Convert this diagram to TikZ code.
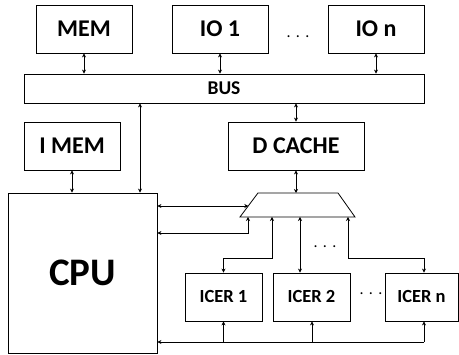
\documentclass[tikz,border=0pt]{standalone}
\usepackage{fontspec}
\setmainfont{Carlito}
\usetikzlibrary{arrows.meta,calc}
\begin{document}
\begin{tikzpicture}[x=1pt,y=-1pt,
  box/.style={draw,line width=0.8pt,inner sep=0pt,font=\bfseries\fontsize{24}{26}\selectfont},
  sbox/.style={box,font=\bfseries\fontsize{18.5}{20}\selectfont},
  dbl/.style={line width=0.8pt,{Stealth[length=4pt,width=4pt]}-{Stealth[length=4pt,width=4pt]}},
  sgl/.style={line width=0.8pt,-{Stealth[length=4pt,width=4pt]}},
  dotsn/.style={font=\fontsize{16}{16}\selectfont}]
\useasboundingbox (0,0) rectangle (459,355);
% boxes
\node[box,minimum width=96pt,minimum height=48pt] (mem) at (84,29) {MEM};
\node[box,minimum width=96pt,minimum height=48pt] (io1) at (220,29) {IO 1};
\node[box,minimum width=96pt,minimum height=48pt] (ion) at (376,29) {IO n};
\node[dotsn] (d1) at (298,37) {.\,\,.\,\,.};
\node[box,minimum width=400pt,minimum height=29pt,font=\bfseries\fontsize{19.5}{21}\selectfont] (bus) at (224,88.5) {BUS};
\node[box,minimum width=96pt,minimum height=48pt] (imem) at (72,146) {I MEM};
\node[box,minimum width=136pt,minimum height=48pt] (dc) at (296,146) {D CACHE};
\node[box,minimum width=149pt,minimum height=160pt,font=\bfseries\fontsize{39}{41}\selectfont] (cpu) at (82.5,273) {CPU};
\node[sbox,minimum width=77pt,minimum height=48pt] (ic1) at (223.5,297) {ICER 1};
\node[sbox,minimum width=77pt,minimum height=48pt] (ic2) at (311.5,297) {ICER 2};
\node[sbox,minimum width=73pt,minimum height=48pt] (icn) at (421.5,297) {ICER n};
\node[dotsn] (d2) at (371,294) {.\,\,.\,\,.};
\node[dotsn] (d3) at (325,247) {.\,\,.\,\,.};
% mux
\coordinate (mtl) at (258,193);
\coordinate (mtr) at (338,193);
\coordinate (mbr) at (355,217);
\coordinate (mbl) at (240,217);
\draw[line width=0.8pt] (mtl) -- (mtr) -- (mbr) -- (mbl) -- cycle;
\coordinate (mtop) at (296,193);
\coordinate (mleft) at (248.3,206);
% connectors top
\draw[dbl] (mem.south) -- (mem.south |- bus.north);
\draw[dbl] (io1.south) -- (io1.south |- bus.north);
\draw[dbl] (ion.south) -- (ion.south |- bus.north);
\coordinate (bx) at (140,0);
\draw[dbl] (bx |- bus.south) -- (bx |- cpu.north);
\draw[dbl] (dc.north) -- (dc.north |- bus.south);
\draw[dbl] (imem.south) -- (imem.south |- cpu.north);
\draw[dbl] (dc.south) -- (mtop);
% cpu - mux
\draw[dbl] (cpu.east |- mleft) -- (mleft);
\coordinate (m1) at (248,217);
\coordinate (m2) at (272,217);
\coordinate (m3) at (300,217);
\coordinate (m4) at (348,217);
\coordinate (hy) at (0,258);
\coordinate (hy2) at (0,233);
\coordinate (cn) at (424,0);
\draw[dbl] (cpu.east |- hy2) -- (m1 |- hy2) -- (m1);
\draw[dbl] (m2) -- (m2 |- hy) -- (ic1.north |- hy) -- (ic1.north);
\draw[dbl] (m3) -- (m3 |- ic2.north);
\draw[dbl] (m4) -- (m4 |- hy) -- (cn |- hy) -- (cn |- icn.north);
% bottom
\coordinate (bot) at (424,342);
\coordinate (c2) at (312,0);
\draw[sgl] (bot) -- (cpu.east |- bot);
\draw[sgl] (bot) -- (bot |- icn.south);
\draw[sgl] (ic1.south |- bot) -- (ic1.south);
\draw[sgl] (c2 |- bot) -- (c2 |- ic2.south);
\end{tikzpicture}
\end{document}
